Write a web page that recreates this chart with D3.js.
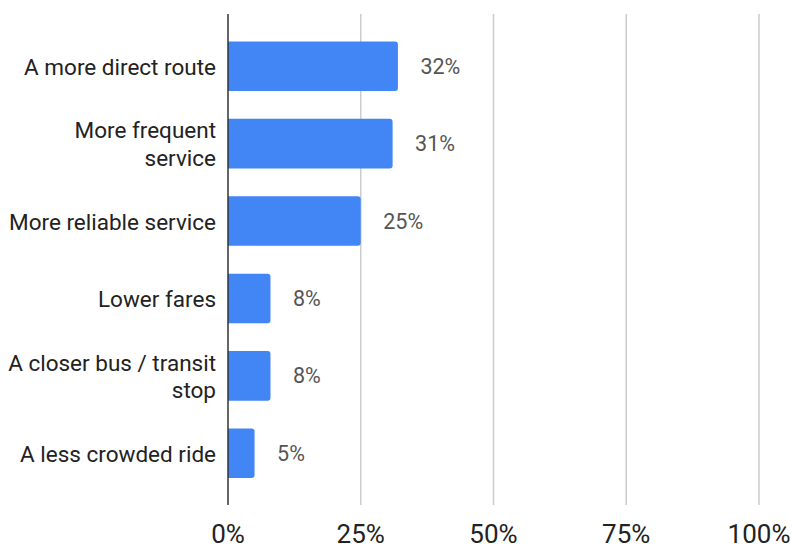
<!DOCTYPE html>
<html><head><meta charset="utf-8">
<script src="https://cdn.jsdelivr.net/npm/d3@7"></script>
<style>body{margin:0;background:#fff;} svg{display:block;font-family:Roboto, sans-serif;}</style>
</head><body>
<svg id="chart" width="792" height="544"></svg>
<script>
const categories = [
  ["A more direct route"],
  ["More frequent", "service"],
  ["More reliable service"],
  ["Lower fares"],
  ["A closer bus / transit", "stop"],
  ["A less crowded ride"]
];
const values = [0.32, 0.31, 0.25, 0.08, 0.08, 0.05];
const valueLabels = ["32%", "31%", "25%", "8%", "8%", "5%"];
const tickValues = [0, 0.25, 0.5, 0.75, 1];
const tickLabels = ["0%", "25%", "50%", "75%", "100%"];

const svg = d3.select("#chart");
const x = d3.scaleLinear().domain([0, 1]).range([228, 759]);
const y = d3.scaleBand().domain(d3.range(categories.length)).range([27.5, 492]).paddingInner(0.36).paddingOuter(0.18);

// gridlines
svg.append("g").selectAll("line").data(tickValues.slice(1)).join("line")
  .attr("x1", d => x(d)).attr("x2", d => x(d))
  .attr("y1", 14).attr("y2", 505)
  .attr("stroke", "#cccccc").attr("stroke-width", 1.5);

// bars
svg.append("g").selectAll("path").data(values).join("path")
  .attr("d", (d, i) => {
    const x0 = x(0), x1 = x(d), y0 = y(i), h = y.bandwidth(), r = 3;
    return `M${x0},${y0}H${x1 - r}Q${x1},${y0} ${x1},${y0 + r}V${y0 + h - r}Q${x1},${y0 + h} ${x1 - r},${y0 + h}H${x0}Z`;
  })
  .attr("fill", "#4285f4");

// axis line
svg.append("line").attr("x1", x(0)).attr("x2", x(0)).attr("y1", 14).attr("y2", 505)
  .attr("stroke", "#333333").attr("stroke-width", 1.5);

// value labels
svg.append("g").selectAll("text").data(values).join("text")
  .attr("x", d => x(d) + 22.5)
  .attr("y", (d, i) => y(i) + y.bandwidth() / 2 + 7.5)
  .attr("font-size", 21.5).attr("fill", "#555555")
  .text((d, i) => valueLabels[i]);

// category labels
const lineH = 27.5;
const cat = svg.append("g").selectAll("text").data(categories).join("text")
  .attr("text-anchor", "end")
  .attr("font-size", 22.5).attr("fill", "#222222")
  .attr("x", 216)
  .attr("y", (d, i) => y(i) + y.bandwidth() / 2 + 8.5 - (d.length - 1) * lineH / 2);
cat.selectAll("tspan").data(d => d).join("tspan")
  .attr("x", 216).attr("dy", (d, j) => j === 0 ? 0 : lineH).text(d => d);

// x tick labels
svg.append("g").selectAll("text").data(tickValues).join("text")
  .attr("x", d => x(d)).attr("y", 543)
  .attr("text-anchor", "middle").attr("font-size", 26).attr("fill", "#222222")
  .text((d, i) => tickLabels[i]);
</script>
</body></html>
